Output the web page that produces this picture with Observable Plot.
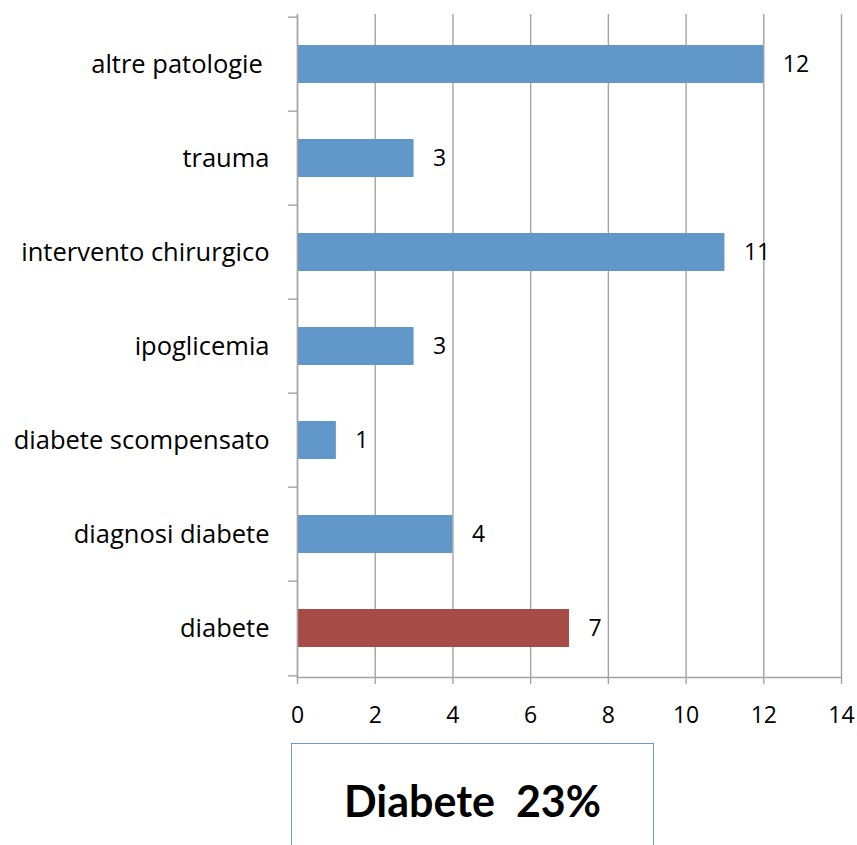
<!DOCTYPE html>
<html>
<head>
<meta charset="utf-8">
<script src="https://cdn.jsdelivr.net/npm/d3@7"></script>
<script src="https://cdn.jsdelivr.net/npm/@observablehq/plot@0.6"></script>
<style>
  html, body { margin: 0; padding: 0; background: #fff; }
  body { width: 857px; height: 845px; overflow: hidden; position: relative; font-family: "Open Sans", Lato, sans-serif; }
  #chart svg text { font-family: "Open Sans", Lato, sans-serif; }
  #note {
    position: absolute; left: 291px; top: 743px; width: 363px; height: 140px;
    border: 1.5px solid #6f9bd0; box-sizing: border-box; background: #fff;
    text-align: center; font-family: Lato, "Open Sans", sans-serif;
    font-weight: 700; font-size: 43px; color: #000;
    padding-top: 31px; white-space: pre;
  }
</style>
</head>
<body>
<div id="chart"></div>
<div id="note"></div>
<script>
// Categories, top to bottom, and their counts
const categories = ["altre patologie ", "trauma", "intervento chirurgico", "ipoglicemia", "diabete scompensato", "diagnosi diabete", "diabete"];
const counts = [12, 3, 11, 3, 1, 4, 7];
const xTicks = [0, 2, 4, 6, 8, 10, 12, 14];
const highlighted = "diabete";
const noteText = "Diabete  23%";

const data = categories.map((c, i) => ({category: c, count: counts[i]}));

const W = 857, H = 740, mTop = 14, mBottom = 63, mLeft = 297, mRight = 16;
const step = (H - mTop - mBottom) / categories.length;
const gray = "#a3a3a3";
const blue = "#6197c9";
const red = "#a64b45";

const chart = Plot.plot({
  width: W,
  height: H,
  marginTop: mTop,
  marginBottom: mBottom,
  marginLeft: mLeft,
  marginRight: mRight,
  style: {fontSize: "24px", color: "#000", background: "#fff"},
  x: {domain: [0, 14]},
  y: {domain: categories, paddingInner: 0.6, paddingOuter: 0.3},
  marks: [
    Plot.gridX(xTicks, {stroke: gray, strokeOpacity: 1, strokeWidth: 1.4}),
    Plot.barX(data, {
      x: "count", y: "category",
      fill: d => d.category === highlighted ? red : blue
    }),
    // category boundary ticks on the left axis
    Plot.ruleY(categories, {y: d => d, x1: -0.23, x2: 0, dy: -step / 2, stroke: gray, strokeWidth: 1.4}),
    Plot.ruleY(categories.slice(-1), {y: d => d, x1: -0.23, x2: 0, dy: step / 2, stroke: gray, strokeWidth: 1.4}),
    Plot.frame({anchor: "left", stroke: gray, strokeWidth: 1.4}),
    Plot.frame({anchor: "bottom", stroke: gray, strokeWidth: 1.4}),
    Plot.axisX({ticks: xTicks, tickSize: 7, tickPadding: 22, stroke: gray, strokeWidth: 1.4, fontSize: 23, label: null}),
    Plot.axisY({tickSize: 0, tickPadding: 28, fontSize: 25.5, label: null}),
    Plot.text(data, {x: "count", y: "category", text: d => String(d.count), dx: 19, textAnchor: "start", fontSize: 23, fill: "#000"})
  ]
});

// keep the trailing space on the first category label
chart.querySelectorAll("text").forEach(t => {
  t.setAttribute("xml:space", "preserve");
  t.style.whiteSpace = "pre";
});

document.getElementById("chart").appendChild(chart);
document.getElementById("note").textContent = noteText;
</script>
</body>
</html>
